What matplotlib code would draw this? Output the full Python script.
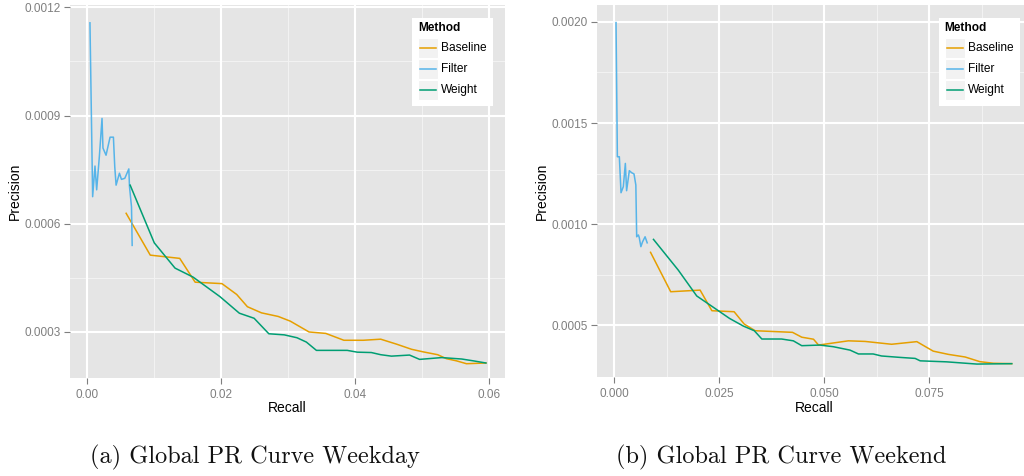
import matplotlib
matplotlib.use("Agg")
import matplotlib.pyplot as plt
from matplotlib.patches import Rectangle
from matplotlib.lines import Line2D

# ---------------- data ----------------
methods = ["Baseline", "Filter", "Weight"]
colors = {"Baseline": "#E69F00", "Filter": "#56B4E9", "Weight": "#009E73"}

wd_filter_recall = [0.0004, 0.0008, 0.00115, 0.0014, 0.0018, 0.0022, 0.00234, 0.0028, 0.0034, 0.0039,
                    0.0041, 0.0043, 0.0048, 0.0051, 0.0056, 0.0062, 0.0063, 0.0066, 0.0067]
wd_filter_precision = [0.001157, 0.000675, 0.00076, 0.000694, 0.000786, 0.000892, 0.00081, 0.00079, 0.00084, 0.00084,
                       0.000758, 0.000707, 0.00074, 0.000723, 0.000726, 0.000752, 0.000703, 0.000647, 0.00054]
wd_baseline_recall = [0.0058, 0.0094, 0.0138, 0.0161, 0.0201, 0.0223, 0.0239, 0.026, 0.0285, 0.0303, 0.0331, 0.0356,
                      0.0383, 0.0412, 0.0438, 0.0462, 0.0484, 0.0501, 0.0523, 0.0536, 0.0551, 0.0566, 0.0595]
wd_baseline_precision = [0.000629, 0.000513, 0.000504, 0.000438, 0.000434, 0.000404, 0.00037, 0.000353, 0.000343,
                         0.00033, 0.0003, 0.000296, 0.000277, 0.000277, 0.00028, 0.000266, 0.000252, 0.000245,
                         0.000237, 0.000226, 0.00022, 0.000212, 0.000214]
wd_weight_recall = [0.0064, 0.0100, 0.0131, 0.0158, 0.0198, 0.0227, 0.0249, 0.0271, 0.0294, 0.0313, 0.0327, 0.0342,
                    0.0388, 0.0403, 0.0424, 0.0438, 0.0454, 0.0481, 0.0496, 0.0529, 0.0559, 0.0576, 0.0595]
wd_weight_precision = [0.000707, 0.000547, 0.000477, 0.000452, 0.000398, 0.000352, 0.000338, 0.000295, 0.000292,
                       0.000284, 0.000272, 0.000249, 0.000249, 0.000244, 0.000243, 0.000237, 0.000233, 0.000236,
                       0.000224, 0.000229, 0.000225, 0.00022, 0.000214]

we_filter_recall = [0.00048, 0.0008, 0.00127, 0.00167, 0.00222, 0.0027, 0.003, 0.00365, 0.0042, 0.00476, 0.0052,
                    0.0054, 0.0058, 0.006, 0.0064, 0.0068, 0.0074, 0.0079]
we_filter_precision = [0.001997, 0.001333, 0.001333, 0.001155, 0.001185, 0.0013, 0.001165, 0.001264, 0.001254,
                       0.001248, 0.001193, 0.000937, 0.000946, 0.000934, 0.000888, 0.000912, 0.000937, 0.000907]
we_baseline_recall = [0.0087, 0.0135, 0.0205, 0.0233, 0.0286, 0.031, 0.0336, 0.0425, 0.0447, 0.0475, 0.0487, 0.0558,
                      0.0598, 0.0661, 0.0721, 0.076, 0.0796, 0.0836, 0.0871, 0.0903, 0.0947]
we_baseline_precision = [0.00086, 0.000665, 0.000673, 0.000571, 0.000566, 0.000505, 0.000472, 0.000464, 0.00044,
                         0.00043, 0.000401, 0.000422, 0.000419, 0.000405, 0.000418, 0.000371, 0.000355, 0.000342,
                         0.000319, 0.000311, 0.000309]
we_weight_recall = [0.0094, 0.0153, 0.0197, 0.024, 0.0275, 0.0308, 0.0334, 0.0352, 0.0399, 0.0427, 0.0447, 0.049,
                    0.0522, 0.0562, 0.0582, 0.0617, 0.0637, 0.0681, 0.0717, 0.0729, 0.0792, 0.0864, 0.0947]
we_weight_precision = [0.000924, 0.000772, 0.000644, 0.000583, 0.000533, 0.000495, 0.000472, 0.000431, 0.000431,
                       0.000422, 0.000398, 0.000401, 0.000393, 0.000376, 0.000357, 0.000357, 0.000347, 0.00034,
                       0.000335, 0.000323, 0.000318, 0.000307, 0.000309]

wd_xticks = [0.00, 0.02, 0.04, 0.06]
wd_xticklabels = ["0.00", "0.02", "0.04", "0.06"]
wd_yticks = [0.0003, 0.0006, 0.0009, 0.0012]
wd_yticklabels = ["0.0003", "0.0006", "0.0009", "0.0012"]
we_xticks = [0.000, 0.025, 0.050, 0.075]
we_xticklabels = ["0.000", "0.025", "0.050", "0.075"]
we_yticks = [0.0005, 0.0010, 0.0015, 0.0020]
we_yticklabels = ["0.0005", "0.0010", "0.0015", "0.0020"]

captions = ["(a) Global PR Curve Weekday", "(b) Global PR Curve Weekend"]

# ---------------- figure ----------------
W, H = 1024, 476
plt.rcParams['font.family'] = ['Liberation Sans', 'DejaVu Sans']
fig = plt.figure(figsize=(W / 100, H / 100), dpi=100)
fig.patch.set_facecolor("white")


def fx(px):
    return px / W


def fy(py):
    return 1 - py / H


panels = [
    dict(left=70, right=505, top=5, bottom=378,
         xlim=(-0.00258, 0.06235), ylim=(0.0001724, 0.0012064),
         xticks=wd_xticks, xtl=wd_xticklabels, yticks=wd_yticks, ytl=wd_yticklabels,
         xminor=[0.01, 0.03, 0.05], yminor=[0.00045, 0.00075, 0.00105],
         series={"Baseline": (wd_baseline_recall, wd_baseline_precision),
                 "Filter": (wd_filter_recall, wd_filter_precision),
                 "Weight": (wd_weight_recall, wd_weight_precision)},
         ylab_x=15, cap_x=255, cap=captions[0]),
    dict(left=596.7, right=1031.7, top=5, bottom=377,
         xlim=(-0.00412, 0.09945), ylim=(0.000243, 0.002084),
         xticks=we_xticks, xtl=we_xticklabels, yticks=we_yticks, ytl=we_yticklabels,
         xminor=[0.0125, 0.0375, 0.0625, 0.0875], yminor=[0.00075, 0.00125, 0.00175],
         series={"Baseline": (we_baseline_recall, we_baseline_precision),
                 "Filter": (we_filter_recall, we_filter_precision),
                 "Weight": (we_weight_recall, we_weight_precision)},
         ylab_x=541.5, cap_x=781, cap=captions[1]),
]

for p in panels:
    ax = fig.add_axes([fx(p["left"]), fy(p["bottom"]), fx(p["right"] - p["left"]),
                       (p["bottom"] - p["top"]) / H])
    ax.set_facecolor("#E5E5E5")
    for s in ax.spines.values():
        s.set_visible(False)
    ax.set_xlim(*p["xlim"])
    ax.set_ylim(*p["ylim"])
    for v in p["xminor"]:
        ax.axvline(v, color="#F2F2F2", lw=0.8, zorder=0.5)
    for v in p["yminor"]:
        ax.axhline(v, color="#F2F2F2", lw=0.8, zorder=0.5)
    for v in p["xticks"]:
        ax.axvline(v, color="white", lw=1.5, zorder=0.6)
    for v in p["yticks"]:
        ax.axhline(v, color="white", lw=1.5, zorder=0.6)
    for m in methods:
        r, pr = p["series"][m]
        ax.plot(r, pr, color=colors[m], lw=1.1, zorder=2, solid_joinstyle="round")
    ax.set_xticks(p["xticks"])
    ax.set_xticklabels(p["xtl"])
    ax.set_yticks(p["yticks"])
    ax.set_yticklabels(p["ytl"])
    ax.tick_params(axis="both", length=4, width=0.8, color="#7F7F7F", labelcolor="#7F7F7F",
                   labelsize=8.5, pad=2.5)
    ax.tick_params(axis="x", pad=4)

    # axis titles
    fig.text(fx(p["ylab_x"]), fy((p["top"] + p["bottom"]) / 2), "Precision", rotation=90,
             ha="center", va="center", fontsize=10, color="black")
    fig.text(fx((p["left"] + p["left"] + 435) / 2), fy(408), "Recall",
             ha="center", va="center", fontsize=10, color="black")

    # caption
    fig.text(fx(p["cap_x"]), fy(457), p["cap"], ha="center", va="center",
             fontsize=17.5, family="cmr10", color="#111111")

    # legend (drawn in pixel offsets from panel's left edge)
    L = p["left"] + 342
    fig.add_artist(Rectangle((fx(L), fy(106)), fx(81), (106 - 18) / H,
                             transform=fig.transFigure, facecolor="white", edgecolor="none",
                             zorder=5))
    fig.text(fx(L + 6), fy(28), "Method", ha="left", va="center", fontsize=8.6,
             fontweight="bold", color="black", zorder=6)
    for i, m in enumerate(methods):
        ky = 38 + i * 21
        fig.add_artist(Rectangle((fx(L + 6), fy(ky + 20)), fx(20), 20 / H,
                                 transform=fig.transFigure, facecolor="#F2F2F2",
                                 edgecolor="white", lw=0.8, zorder=6))
        fig.add_artist(Line2D([fx(L + 8), fx(L + 24)], [fy(ky + 10), fy(ky + 10)],
                              transform=fig.transFigure, color=colors[m], lw=1.1, zorder=7))
        fig.text(fx(L + 29), fy(ky + 10), m, ha="left", va="center", fontsize=8.6,
                 color="black", zorder=7)

fig.savefig("out.png", dpi=100, facecolor="white")
